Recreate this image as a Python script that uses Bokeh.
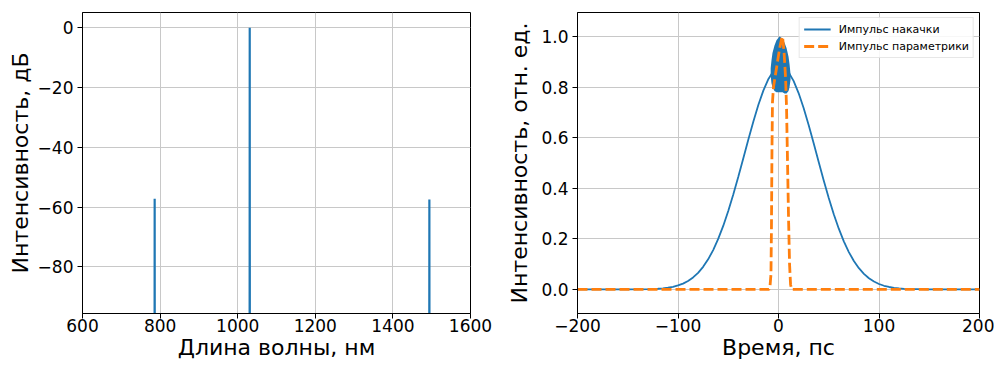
from bokeh.plotting import figure
from bokeh.models import Range1d, FixedTicker, Legend, LegendItem, CustomJSTickFormatter
from bokeh.layouts import row
from bokeh.embed import file_html
from bokeh.resources import INLINE

# ---------------- data ----------------
# spectrum (left): wavelength, nm / intensity, dB (values below the axis floor are off-scale)
wavelength = [600, 785.7, 786.0, 786.3, 1030.7, 1031.0, 1031.3, 1493.7, 1494.0, 1494.3, 1600]
intensity_db = [-130, -130, -57.2, -130, -130, 0.0, -130, -130, -57.5, -130, -130]

# pump pulse (right): time, ps / intensity, rel. units
pump_t = [-200, -150, -125, -120, -115, -110, -105, -100, -95, -90, -85, -80, -75, -70, -65,
          -60, -55, -50, -45, -40, -35, -30, -25, -20, -15, -10, -5, 0, 5, 10, 15, 20, 25,
          30, 35, 40, 45, 50, 55, 60, 65, 70, 75, 80, 85, 90, 95, 100, 105, 110, 115, 120,
          125, 150, 200]
pump_i = [0.0, 0.0001, 0.0015, 0.0028, 0.0045, 0.0070, 0.0106, 0.0159, 0.0233, 0.0336, 0.0475,
          0.0658, 0.0894, 0.1191, 0.1557, 0.1998, 0.2512, 0.3100, 0.3753, 0.4455, 0.5189,
          0.5928, 0.6642, 0.7301, 0.7872, 0.8324, 0.8636, 0.8786, 0.8769, 0.8585, 0.8245,
          0.7766, 0.7176, 0.6503, 0.5782, 0.5042, 0.4312, 0.3618, 0.2977, 0.2403, 0.1903,
          0.1478, 0.1126, 0.0841, 0.0617, 0.0444, 0.0313, 0.0216, 0.0147, 0.0098, 0.0064,
          0.0041, 0.0026, 0.0001, 0.0]
# fast-oscillating part of the pump near the peak: lower / upper envelope
osc_t = [-7.8, -7.0, -6.0, -4.0, -2.0, 0.0, 1.0, 2.0, 4.0, 6.0, 8.0, 10.0, 11.0, 12.0]
osc_lo = [0.845, 0.815, 0.80, 0.785, 0.78, 0.78, 0.78, 0.78, 0.78, 0.775, 0.775, 0.785, 0.80, 0.83]
osc_hi = [0.875, 0.905, 0.935, 0.965, 0.985, 0.995, 1.0, 0.998, 0.99, 0.975, 0.955, 0.92, 0.89, 0.85]

# parametric pulse (right)
param_t = [-200, -9.5, -8.5, -7.5, -7.0, -6.5, -6.0, -5.0, -3.0, -1.0, 1.0, 3.0, 4.0, 5.5,
           7.0, 8.0, 9.0, 10.0, 11.0, 12.0, 13.0, 200]
param_i = [0.0, 0.0, 0.01, 0.06, 0.25, 0.55, 0.74, 0.80, 0.85, 0.90, 0.95, 0.99, 1.0, 0.94,
           0.84, 0.72, 0.50, 0.28, 0.10, 0.02, 0.0, 0.0]

x1_ticks = [600, 800, 1000, 1200, 1400, 1600]
y1_ticks = [-80, -60, -40, -20, 0]
x2_ticks = [-200, -100, 0, 100, 200]
y2_ticks = [0.0, 0.2, 0.4, 0.6, 0.8, 1.0]

BLUE = "#1f77b4"
ORANGE = "#ff7f0e"
FONT = "DejaVu Sans"

INT_CODE = "return (tick < 0 ? '\u2212' : '') + Math.abs(tick).toFixed(0);"
DEC_CODE = "return (tick < 0 ? '\u2212' : '') + Math.abs(tick).toFixed(1);"


def style(p, xticks, yticks, xcode, ycode, ylabel_standoff):
    p.xaxis.ticker = FixedTicker(ticks=xticks)
    p.yaxis.ticker = FixedTicker(ticks=yticks)
    p.xaxis.formatter = CustomJSTickFormatter(code=xcode)
    p.yaxis.formatter = CustomJSTickFormatter(code=ycode)
    for ax in (p.xaxis[0], p.yaxis[0]):
        ax.major_label_text_font = FONT
        ax.major_label_text_font_size = "17px"
        ax.major_label_text_color = "#000000"
        ax.axis_label_text_font = FONT
        ax.axis_label_text_font_size = "22px"
        ax.axis_label_text_font_style = "normal"
        ax.axis_label_text_color = "#000000"
        ax.axis_line_color = "#000000"
        ax.major_tick_line_color = "#000000"
        ax.major_tick_out = 5
        ax.major_tick_in = 0
        ax.minor_tick_line_color = None
    p.xaxis.major_label_standoff = 0
    p.xaxis.axis_label_standoff = 0
    p.yaxis.major_label_standoff = 4
    p.yaxis.axis_label_standoff = ylabel_standoff
    p.grid.grid_line_color = "#c8c8c8"
    p.grid.grid_line_width = 1
    p.outline_line_color = "#000000"
    p.outline_line_width = 1
    p.background_fill_color = "white"
    p.border_fill_color = "white"


# ---------------- left: spectrum ----------------
p1 = figure(frame_width=388, frame_height=301, output_backend="svg", toolbar_location=None,
            x_range=Range1d(600, 1600), y_range=Range1d(-95.6, 5.1),
            min_border_left=82, min_border_right=30, min_border_top=12, min_border_bottom=52)
p1.line(wavelength, intensity_db, line_color=BLUE, line_width=2.2)
p1.xaxis.axis_label = "Длина волны, нм"
p1.yaxis.axis_label = "Интенсивность, дБ"
style(p1, x1_ticks, y1_ticks, INT_CODE, INT_CODE, 2)

# ---------------- right: pulses ----------------
p2 = figure(frame_width=402, frame_height=301, output_backend="svg", toolbar_location=None,
            x_range=Range1d(-200, 200), y_range=Range1d(-0.095, 1.095),
            min_border_left=77, min_border_right=15, min_border_top=12, min_border_bottom=52)
r_pump = p2.line(pump_t, pump_i, line_color=BLUE, line_width=1.8)
p2.varea(x=osc_t, y1=osc_lo, y2=osc_hi, fill_color=BLUE)
r_par = p2.line(param_t, param_i, line_color=ORANGE, line_width=2.8, line_dash="10 4")
p2.xaxis.axis_label = "Время, пс"
p2.yaxis.axis_label = "Интенсивность, отн. ед."
style(p2, x2_ticks, y2_ticks, INT_CODE, DEC_CODE, 6)

legend = Legend(items=[LegendItem(label="Импульс накачки", renderers=[r_pump]),
                       LegendItem(label="Импульс параметрики", renderers=[r_par])],
                location="top_right")
legend.label_text_font = FONT
legend.label_text_font_size = "11px"
legend.label_text_color = "#000000"
legend.glyph_width = 27
legend.glyph_height = 14
legend.label_height = 14
legend.label_standoff = 8
legend.padding = 4
legend.spacing = 3
legend.margin = 5
legend.border_line_color = "#d0d0d0"
legend.border_line_width = 1
legend.background_fill_alpha = 0.85
p2.add_layout(legend)

layout = row(p1, p2)
open("out.html", "w").write(file_html(layout, INLINE))
